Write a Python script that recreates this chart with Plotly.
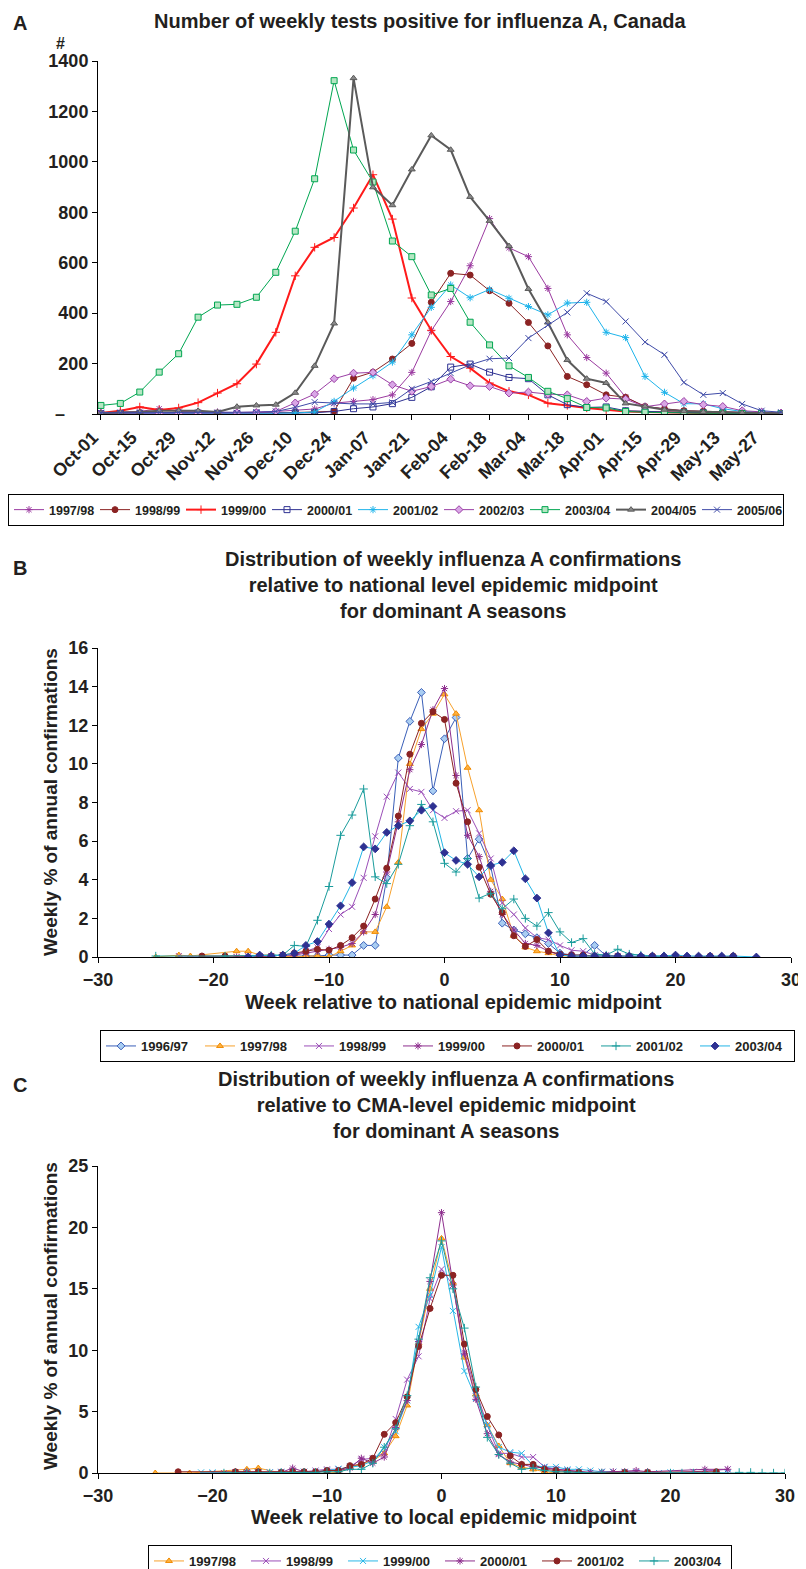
import plotly.graph_objects as go

# page is 806x1569; the browser body keeps an 8px margin, so the figure is 8px smaller
PAGE_W, PAGE_H, OFF = 806, 1569, 8
W, H = PAGE_W - OFF, PAGE_H - OFF

# ---------------- Panel A data (weekly counts) ----------------
week_labels = ["Oct-01", "Oct-08", "Oct-15", "Oct-22", "Oct-29", "Nov-05", "Nov-12", "Nov-19",
               "Nov-26", "Dec-03", "Dec-10", "Dec-17", "Dec-24", "Dec-31", "Jan-07", "Jan-14",
               "Jan-21", "Jan-28", "Feb-04", "Feb-11", "Feb-18", "Feb-25", "Mar-04", "Mar-11",
               "Mar-18", "Mar-25", "Apr-01", "Apr-08", "Apr-15", "Apr-22", "Apr-29", "May-06",
               "May-13", "May-20", "May-27", "Jun-03"]
a_1997 = [3, 8, 10, 21, 10, 8, 8, 6, 8, 10, 15, 20, 43, 50, 57, 76, 165, 330, 446, 588, 775, 659,
          624, 498, 314, 224, 162, 67, 30, 21, 13, 10, 8, 6, 4, 3]
a_1998 = [2, 3, 3, 3, 3, 3, 3, 4, 4, 5, 6, 8, 11, 142, 166, 218, 280, 443, 558, 551, 489, 439,
          363, 270, 149, 116, 76, 66, 30, 20, 13, 11, 8, 6, 4, 3]
a_1999 = [4, 13, 28, 16, 24, 45, 83, 120, 198, 324, 548, 661, 700, 817, 949, 773, 460, 332, 228,
          182, 123, 90, 76, 43, 34, 24, 17, 10, 8, 6, 5, 4, 3, 2, 2, 1]
a_2000 = [2, 2, 2, 2, 2, 2, 2, 2, 3, 3, 4, 5, 10, 21, 28, 41, 66, 108, 186, 198, 166, 145, 140,
          76, 37, 26, 28, 13, 10, 8, 6, 5, 4, 3, 2, 2]
a_2001 = [2, 2, 2, 3, 3, 3, 2, 2, 3, 4, 4, 8, 50, 103, 152, 206, 314, 423, 512, 461, 494, 459,
          426, 393, 440, 443, 324, 303, 149, 86, 41, 40, 21, 10, 8, 4]
a_2002 = [3, 3, 3, 3, 3, 3, 3, 5, 5, 10, 44, 79, 140, 162, 165, 116, 90, 109, 138, 112, 109, 83,
          87, 79, 76, 50, 63, 59, 29, 40, 50, 37, 30, 13, 8, 4]
a_2003 = [34, 42, 87, 166, 239, 384, 432, 435, 463, 562, 725, 933, 1322, 1047, 920, 686, 624, 472,
          498, 364, 274, 191, 145, 90, 61, 26, 24, 10, 7, 5, 4, 3, 3, 2, 2, 1]
a_2004 = [4, 6, 8, 13, 13, 13, 8, 29, 34, 37, 84, 191, 359, 1332, 899, 828, 970, 1105, 1048, 861,
          766, 666, 496, 363, 214, 140, 123, 42, 30, 17, 11, 8, 6, 5, 4, 3]
a_2005 = [5, 5, 5, 6, 6, 5, 5, 5, 7, 10, 26, 47, 43, 40, 40, 46, 100, 129, 162, 195, 219, 222,
          301, 353, 403, 479, 446, 367, 285, 235, 125, 76, 83, 40, 13, 7]
a_names = ["1997/98", "1998/99", "1999/00", "2000/01", "2001/02", "2002/03", "2003/04",
           "2004/05", "2005/06"]
a_y_ticks = [0, 200, 400, 600, 800, 1000, 1200, 1400]

# ---------------- Panel B data (national midpoint) ----------------
b_w_9697 = [-14, -13, -12, -11, -10, -9, -8, -7, -6, -5, -4, -3, -2, -1, 0, 1, 2, 3, 4, 5, 6, 7,
            8, 9, 10, 11, 12, 13, 14, 15, 16]
b_9697 = [0, 0.05, 0.05, 0.05, 0.1, 0.1, 0.1, 0.6, 0.6, 4.1, 10.3, 12.2, 13.7, 8.6, 11.3, 12.4,
          5.1, 6.1, 4.7, 1.75, 1.4, 1.2, 1.0, 0.7, 0.2, 0.1, 0.1, 0.6, 0.05, 0, 0]
b_w_9798 = [-25, -23, -22, -18, -17, -16, -15, -14, -13, -12, -11, -10, -9, -8, -7, -6, -5, -4,
            -3, -2, -1, 0, 1, 2, 3, 4, 5, 6, 7, 8, 9, 10, 11, 12, 13, 14, 15, 16]
b_9798 = [0, 0.1, 0.05, 0.3, 0.3, 0.1, 0.1, 0.05, 0, 0.05, 0.05, 0, 0.3, 0.6, 1.3, 1.3, 2.6, 4.9,
          10.0, 11.8, 12.6, 13.6, 12.6, 9.8, 7.6, 4.0, 3.0, 1.1, 0.5, 0.3, 0.2, 0.05, 0.05, 0.05,
          0, 0, 0, 0]
b_w_9899 = [-23, -18, -17, -16, -15, -14, -13, -12, -11, -10, -9, -8, -7, -6, -5, -4, -3, -2, -1,
            0, 1, 2, 3, 4, 5, 6, 7, 8, 9, 10, 11, 12, 13, 14, 15, 16, 17, 18]
b_9899 = [0.05, 0.0, 0.05, 0.05, 0.05, 0.1, 0.1, 0.3, 0.5, 1.45, 2.2, 2.6, 4.1, 6.25, 8.3, 9.55,
          8.7, 8.55, 7.6, 7.2, 7.55, 7.6, 6.4, 5.1, 2.8, 2.2, 1.5, 1.0, 0.9, 0.6, 0.35, 0.3, 0.1,
          0.1, 0.05, 0, 0, 0]
b_w_9900 = [-18, -17, -16, -15, -14, -13, -12, -11, -10, -9, -8, -7, -6, -5, -4, -3, -2, -1, 0, 1,
            2, 3, 4, 5, 6, 7, 8, 9, 10, 11, 12, 13, 14, 15, 16, 17]
b_9900 = [0, 0, 0.05, 0.05, 0.1, 0.1, 0.2, 0.3, 0.4, 0.5, 0.7, 1.3, 2.2, 4.4, 7.0, 9.7, 11.0,
          12.8, 13.9, 9.4, 6.3, 5.2, 3.4, 2.2, 1.4, 0.7, 0.6, 0.3, 0.1, 0.05, 0, 0, 0, 0, 0, 0]
b_w_0001 = [-21, -19, -16, -15, -14, -13, -12, -11, -10, -9, -8, -7, -6, -5, -4, -3, -2, -1, 0, 1,
            2, 3, 4, 5, 6, 7, 8, 9, 10, 11, 12, 13, 14, 15, 16, 17, 18, 19, 20, 21, 22, 23, 24, 25]
b_0001 = [0.05, 0.05, 0.05, 0.05, 0.1, 0.2, 0.3, 0.4, 0.35, 0.6, 1.0, 1.6, 3.0, 4.6, 7.3, 10.5,
          12.1, 12.7, 12.3, 9.0, 7.0, 4.65, 3.25, 2.3, 1.1, 0.55, 0.9, 0.3, 0.15, 0.1, 0.1, 0.05,
          0.05, 0.05, 0.05, 0, 0.05, 0, 0.05, 0, 0, 0.05, 0, 0.05]
b_w_0102 = [-25, -19, -15, -14, -13, -12, -11, -10, -9, -8, -7, -6, -5, -4, -3, -2, -1, 0, 1, 2,
            3, 4, 5, 6, 7, 8, 9, 10, 11, 12, 13, 14, 15, 16, 17, 18, 19, 20]
b_0102 = [0.05, 0.05, 0.1, 0.1, 0.6, 0.55, 1.9, 3.65, 6.3, 7.35, 8.7, 4.15, 3.8, 4.8, 6.8, 7.9,
          7.0, 4.85, 4.4, 5.1, 3.05, 3.3, 2.5, 3.0, 2.0, 1.6, 2.3, 1.3, 0.75, 0.95, 0.15, 0.1, 0.4,
          0.15, 0.1, 0.05, 0.05, 0.05]
b_w_0304 = [-17, -16, -15, -14, -13, -12, -11, -10, -9, -8, -7, -6, -5, -4, -3, -2, -1, 0, 1, 2,
            3, 4, 5, 6, 7, 8, 9, 10, 11, 12, 13, 14, 15, 16, 17, 18, 19, 20, 21, 22, 23, 24, 25, 27]
b_0304 = [0, 0.1, 0.05, 0.1, 0.2, 0.6, 0.8, 1.7, 2.65, 3.85, 5.7, 5.6, 6.45, 6.8, 7.05, 7.6, 7.8,
          5.4, 5.0, 4.8, 4.15, 4.75, 4.9, 5.5, 4.05, 3.05, 1.25, 0.1, 0.05, 0.05, 0.05, 0.05, 0.05,
          0.05, 0.05, 0.05, 0.05, 0.1, 0.05, 0.05, 0.05, 0.05, 0.05, 0]
b_names = ["1996/97", "1997/98", "1998/99", "1999/00", "2000/01", "2001/02", "2003/04"]

# ---------------- Panel C data (CMA-level midpoint) ----------------
c_w_9798 = [-25, -22, -17, -16, -14, -13, -12, -11, -10, -9, -8, -7, -6, -5, -4, -3, -2, -1, 0,
            1, 2, 3, 4, 5, 6, 7, 8, 9, 10, 15, 16]
c_9798 = [0, 0, 0.3, 0.4, 0, 0, 0, 0.1, 0.1, 0, 0.5, 0.7, 1.0, 1.6, 3.0, 5.5, 10.6, 15.0, 19.1,
          15.5, 9.4, 6.4, 3.9, 2.2, 0.8, 0.5, 0.3, 0.1, 0, 0, 0]
c_w_9899 = [-20, -19, -18, -17, -16, -15, -14, -13, -12, -11, -10, -9, -8, -7, -6, -5, -4, -3,
            -2, -1, 0, 1, 2, 3, 4, 5, 6, 7, 8, 9, 10, 11, 12, 13, 14, 15, 16, 17, 18, 22, 25]
c_9899 = [0, 0, 0.05, 0.05, 0.05, 0.05, 0.1, 0.1, 0.1, 0.2, 0.3, 0.3, 0.5, 1.1, 1.2, 1.6, 4.4,
          7.6, 9.5, 14.2, 16.6, 15.3, 9.8, 6.7, 3.9, 1.6, 1.6, 1.3, 1.3, 0.5, 0.3, 0.2, 0.1, 0.0,
          0.1, 0.1, 0.1, 0.1, 0.0, 0.1, 0.3]
c_w_9900 = [-21, -20, -18, -17, -16, -15, -14, -13, -12, -11, -10, -9, -8, -7, -6, -5, -4, -3,
            -2, -1, 0, 1, 2, 3, 4, 5, 6, 7, 8, 9, 10, 11, 12, 13, 14, 15, 16, 17, 19, 20, 24, 25]
c_9900 = [0.05, 0.05, 0, 0, 0.05, 0.05, 0.05, 0.05, 0.1, 0.1, 0.2, 0.35, 0.5, 0.6, 1.0, 2.1, 3.4,
          5.9, 11.9, 14.5, 18.4, 13.2, 8.3, 6.1, 3.9, 2.1, 1.7, 1.6, 0.6, 0.5, 0.5, 0.3, 0.3, 0.2,
          0.1, 0.1, 0.05, 0.05, 0.0, 0.05, 0, 0]
c_w_0001 = [-18, -17, -16, -14, -13, -12, -11, -10, -9, -8, -7, -6, -5, -4, -3, -2, -1, 0, 1, 2,
            3, 4, 5, 6, 7, 8, 9, 10, 11, 12, 13, 14, 15, 16, 17, 18, 23, 25]
c_0001 = [0.1, 0.1, 0.05, 0.05, 0.4, 0.1, 0.05, 0.2, 0.2, 0.4, 1.2, 0.8, 1.3, 3.7, 5.9, 10.7,
          15.6, 21.2, 15.3, 9.7, 6.0, 3.2, 1.5, 0.9, 0.7, 0.5, 0.4, 0.3, 0.2, 0.1, 0.05, 0.05, 0.1,
          0.1, 0.2, 0.1, 0.3, 0.3]
c_w_0102 = [-23, -18, -16, -14, -13, -12, -11, -10, -9, -8, -7, -6, -5, -4, -3, -2, -1, 0, 1, 2,
            3, 4, 5, 6, 7, 8, 9, 10, 11, 12, 16, 18, 24]
c_0102 = [0.1, 0.1, 0.1, 0.05, 0.1, 0.1, 0.1, 0.2, 0.2, 0.6, 0.7, 1.2, 3.15, 4.1, 6.2, 10.3, 13.4,
          16.1, 16.1, 10.5, 6.8, 4.6, 3.1, 1.4, 0.7, 0.7, 0.3, 0.2, 0.1, 0.05, 0.05, 0.05, 0.1]
c_w_0304 = [-19, -18, -17, -16, -15, -14, -13, -12, -11, -10, -9, -8, -7, -6, -5, -4, -3, -2, -1,
            0, 1, 2, 3, 4, 5, 6, 7, 8, 9, 10, 11, 12, 14, 16, 18, 20, 21, 22, 23, 24, 26, 27, 28,
            29, 30]
c_0304 = [0, 0, 0, 0, 0, 0.05, 0.05, 0.05, 0.05, 0.1, 0.1, 0.3, 0.3, 0.8, 2.1, 3.6, 6.3, 10.9,
          15.9, 18.9, 15.0, 11.8, 7.0, 2.9, 1.5, 0.8, 0.3, 0.4, 0.2, 0.1, 0.1, 0.05, 0, 0, 0, 0, 0,
          0, 0, 0, 0.05, 0.05, 0, 0, 0]
c_names = ["1997/98", "1998/99", "1999/00", "2000/01", "2001/02", "2003/04"]

# ---------------- styles ----------------
FONT = "Liberation Sans, Arial, sans-serif"
TXT = "#231F20"

a_styles = [  # color, symbol, line width, marker fill
    ("#9B3AA0", "asterisk-open", 1, None),
    ("#8B2323", "circle", 1, "#8B2323"),
    ("#FF1A1A", "cross-thin-open", 2, None),
    ("#2E3192", "square-open", 1, None),
    ("#1EB4EB", "asterisk-open", 1, None),
    ("#9B3FA5", "diamond", 1, "#D9A6E6"),
    ("#00A651", "square", 1, "#B5E6C3"),
    ("#5A5A5A", "triangle-up", 2, "#8A8A8A"),
    ("#3F4BA8", "x-thin-open", 1, None),
]
b_styles = [  # line color, symbol, marker fill, marker edge
    ("#3A5FB8", "diamond", "#A9CDF2", "#3A5FB8"),
    ("#F7A12C", "triangle-up", "#FFB23F", "#F08A00"),
    ("#9B4FB8", "x-thin-open", "#9B4FB8", "#9B4FB8"),
    ("#8E2E8E", "asterisk-open", "#8E2E8E", "#8E2E8E"),
    ("#8B2323", "circle", "#8B2323", "#8B2323"),
    ("#1A9C9C", "cross-thin-open", "#1A9C9C", "#1A9C9C"),
    ("#22B5E6", "diamond", "#2E3192", "#2E3192"),
]
c_styles = [
    ("#F7A12C", "triangle-up", "#FFB23F", "#F08A00"),
    ("#9B4FB8", "x-thin-open", "#9B4FB8", "#9B4FB8"),
    ("#29B8E8", "x-thin-open", "#29B8E8", "#29B8E8"),
    ("#8E2E8E", "asterisk-open", "#8E2E8E", "#8E2E8E"),
    ("#8B2323", "circle", "#8B2323", "#8B2323"),
    ("#1A9C9C", "cross-thin-open", "#1A9C9C", "#1A9C9C"),
]

fig = go.Figure()

weeks_a = list(range(len(week_labels)))
a_series = [a_1997, a_1998, a_1999, a_2000, a_2001, a_2002, a_2003, a_2004, a_2005]
for name, vals, (col, sym, lw, fill) in zip(a_names, a_series, a_styles):
    fig.add_trace(go.Scatter(
        x=weeks_a, y=vals, name=name, mode="lines+markers",
        line=dict(color=col, width=lw),
        marker=dict(symbol=sym, size=6, color=fill if fill else col,
                    line=dict(color=col, width=1)),
        xaxis="x", yaxis="y", legend="legend"))

b_series = [(b_w_9697, b_9697), (b_w_9798, b_9798), (b_w_9899, b_9899), (b_w_9900, b_9900),
            (b_w_0001, b_0001), (b_w_0102, b_0102), (b_w_0304, b_0304)]
for name, (wk, vals), (col, sym, fill, edge) in zip(b_names, b_series, b_styles):
    fig.add_trace(go.Scatter(
        x=wk, y=vals, name=name, mode="lines+markers",
        line=dict(color=col, width=1),
        marker=dict(symbol=sym, size=6, color=fill, line=dict(color=edge, width=1)),
        xaxis="x2", yaxis="y2", legend="legend2"))

c_series = [(c_w_9798, c_9798), (c_w_9899, c_9899), (c_w_9900, c_9900), (c_w_0001, c_0001),
            (c_w_0102, c_0102), (c_w_0304, c_0304)]
for name, (wk, vals), (col, sym, fill, edge) in zip(c_names, c_series, c_styles):
    fig.add_trace(go.Scatter(
        x=wk, y=vals, name=name, mode="lines+markers",
        line=dict(color=col, width=1),
        marker=dict(symbol=sym, size=6, color=fill, line=dict(color=edge, width=1)),
        xaxis="x3", yaxis="y3", legend="legend3"))


def fx(px):
    return (px - OFF) / W


def fy(py):
    return 1 - (py - OFF) / H


tickfont = dict(family=FONT, size=18, color=TXT, weight="bold")
axis_common = dict(showline=True, linecolor="black", linewidth=1, showgrid=False,
                   zeroline=False, ticks="outside", ticklen=5, tickcolor="black",
                   tickfont=tickfont, automargin=False)

legend_common = dict(orientation="h", xanchor="left", yanchor="top", bgcolor="white",
                     bordercolor="black", borderwidth=1, entrywidthmode="pixels")
legend_font = dict(family=FONT, size=13, color=TXT, weight="bold")

fig.update_layout(
    width=W, height=H, margin=dict(l=0, r=0, t=0, b=0, autoexpand=False),
    paper_bgcolor="white", plot_bgcolor="white", showlegend=True,
    font=dict(family=FONT, color=TXT),
    xaxis=dict(domain=[fx(98), fx(783)], range=[-0.15, 35.1], anchor="y",
               tickvals=weeks_a[::2], ticktext=week_labels[::2], tickangle=-45,
               ticklabelshift=-8, **axis_common),
    yaxis=dict(domain=[fy(414), fy(61)], range=[0, 1400], anchor="x",
               tickvals=a_y_ticks, ticktext=[""] + [str(v) for v in a_y_ticks[1:]],
               **axis_common),
    xaxis2=dict(domain=[fx(98), fx(791)], range=[-30, 30], anchor="y2", dtick=10,
                ticklabelstandoff=1, **axis_common),
    yaxis2=dict(domain=[fy(957), fy(648)], range=[0, 16], anchor="x2", dtick=2,
                **axis_common),
    xaxis3=dict(domain=[fx(98), fx(785)], range=[-30, 30], anchor="y3", dtick=10,
                ticklabelstandoff=1, **axis_common),
    yaxis3=dict(domain=[fy(1473), fy(1166)], range=[0, 25], anchor="x3", dtick=5,
                **axis_common),
    legend=dict(x=fx(8), y=fy(494), entrywidth=41,
                font=dict(family=FONT, size=12.5, color=TXT, weight="bold"), **legend_common),
    legend2=dict(x=fx(100), y=fy(1030), entrywidth=54, font=legend_font, **legend_common),
    legend3=dict(x=fx(148), y=fy(1545), entrywidth=52, font=legend_font, **legend_common),
)

title_font = dict(family=FONT, size=20, color=TXT, weight="bold")
axtitle_font = dict(family=FONT, size=19, color=TXT, weight="bold")
ann = [
    dict(x=fx(20), y=fy(23), text="A", font=title_font),
    dict(x=fx(420), y=fy(21), text="Number of weekly tests positive for influenza A, Canada",
         font=title_font),
    dict(x=fx(60), y=fy(44), text="#", font=dict(family=FONT, size=16, color=TXT, weight="bold")),
    dict(x=fx(60), y=fy(414), text="–", font=tickfont),
    dict(x=fx(20), y=fy(568), text="B", font=title_font),
    dict(x=fx(453), y=fy(585),
         text="Distribution of weekly influenza A confirmations<br>relative to national level "
              "epidemic midpoint<br>for dominant A seasons", font=title_font),
    dict(x=fx(50), y=fy(802), text="Weekly % of annual confirmations", textangle=-90,
         font=axtitle_font),
    dict(x=fx(453), y=fy(1002), text="Week relative to national epidemic midpoint",
         font=title_font),
    dict(x=fx(20), y=fy(1085), text="C", font=title_font),
    dict(x=fx(446), y=fy(1105),
         text="Distribution of weekly influenza A confirmations<br>relative to CMA-level "
              "epidemic midpoint<br>for dominant A seasons", font=title_font),
    dict(x=fx(50), y=fy(1316), text="Weekly % of annual confirmations", textangle=-90,
         font=axtitle_font),
    dict(x=fx(444), y=fy(1517), text="Week relative to local epidemic midpoint",
         font=title_font),
]
for a in ann:
    a.update(xref="paper", yref="paper", showarrow=False, xanchor="center", yanchor="middle")
fig.update_layout(annotations=ann)

fig.write_html("out.html")
